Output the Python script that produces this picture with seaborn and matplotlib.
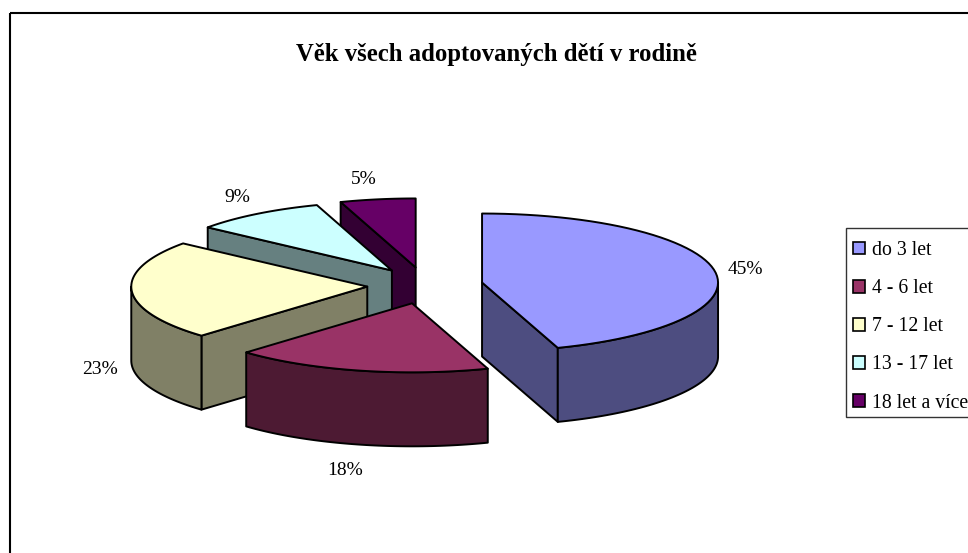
import numpy as np
import pandas as pd
import matplotlib
matplotlib.use('Agg')
import matplotlib.pyplot as plt
from matplotlib.patches import Patch, Polygon, Rectangle
import seaborn as sns

categories = ['do 3 let', '4 - 6 let', '7 - 12 let', '13 - 17 let', '18 let a více']
shares = [44.8, 17.6, 23.35, 9.1, 5.15]
slice_colors = ['#9999FF', '#993366', '#FFFFCC', '#CCFFFF', '#660066']
title = 'Věk všech adoptovaných dětí v rodině'

sns.set_theme(style='white')
plt.rcParams['font.family'] = ['Liberation Serif', 'DejaVu Serif']

df = pd.DataFrame({'cat': categories, 'share': shares})
df['end'] = df['share'].cumsum() * 3.6
df['start'] = df['end'] - df['share'] * 3.6
df['mid'] = (df['start'] + df['end']) / 2
top_cols = sns.color_palette(slice_colors)
side_cols = [tuple(c * 0.5 for c in col) for col in top_cols]

# pie geometry in pixels
cx, cy = 425, 285.5
rx, ry = 236, 69
depth = 74
explode_x, explode_y = 0.245, 0.265

fig = plt.figure(figsize=(9.68, 5.53), dpi=100)
ax = fig.add_axes([0, 0, 1, 1])
ax.set_xlim(0, 968)
ax.set_ylim(553, 0)
ax.axis('off')


def pt(apex, ang):
    a = np.radians(ang)
    return apex[0] + rx * np.sin(a), apex[1] - ry * np.cos(a)


def arc(apex, a1, a2):
    angs = np.linspace(a1, a2, 60)
    return [pt(apex, a) for a in angs]


def face(points, color, z):
    ax.add_patch(Polygon(points, closed=True, fc=color, ec='black', lw=1.4,
                         joinstyle='round', zorder=z))


# back slices first so the front ones cover them
order = [4, 3, 2, 1, 0]
for z, i in enumerate(order):
    row = df.iloc[i]
    m = np.radians(row['mid'])
    apex = (cx + explode_x * rx * np.sin(m), cy - explode_y * ry * np.cos(m))
    low = (apex[0], apex[1] + depth)
    z0 = z * 10
    # cut faces, only the ones turned to the viewer
    if np.sin(np.radians(row['start'])) < -1e-6:
        p = pt(apex, row['start'])
        face([apex, p, (p[0], p[1] + depth), low], side_cols[i], z0 + 1)
    if np.sin(np.radians(row['end'])) > 1e-6:
        p = pt(apex, row['end'])
        face([apex, p, (p[0], p[1] + depth), low], side_cols[i], z0 + 1)
    # outer rim, front half of the ellipse only
    a1, a2 = max(row['start'], 90), min(row['end'], 270)
    if a2 > a1:
        rim = arc(apex, a1, a2)
        face(rim + [(x, y + depth) for x, y in rim[::-1]], side_cols[i], z0 + 2)
    # top
    face([apex] + arc(apex, row['start'], row['end']), top_cols[i], z0 + 3)

# data labels
label_pos = [(745, 269), (345, 470.5), (100, 370), (237, 197), (364, 179)]
for v, (x, y) in zip(shares, label_pos):
    ax.text(x, y, f'{round(v)}%', ha='center', va='center', fontsize=14, color='black')

ax.text(496, 55, title, ha='center', va='center', fontsize=17.8,
        fontweight='bold', color='black')

# chart frame runs off the right and bottom of the image
ax.add_patch(Rectangle((9.5, 13), 1000, 600, fc='none', ec='black', lw=1.5, zorder=0))

# legend box is cut by the image edge too
ax.add_patch(Rectangle((845.5, 228), 200, 189, fc='white', ec='#333333', lw=1.0, zorder=90))
handles = [Patch(fc=c, ec='black', lw=1.2) for c in top_cols]
leg = ax.legend(handles, categories, loc='upper left', bbox_to_anchor=(853, 241),
                bbox_transform=ax.transData, fontsize=14.2, frameon=False, labelcolor='black',
                borderaxespad=0, borderpad=0, handlelength=0.62, handleheight=0.62,
                handletextpad=0.36, labelspacing=0.97)
leg.set_zorder(100)

fig.savefig('out.png', dpi=100)
